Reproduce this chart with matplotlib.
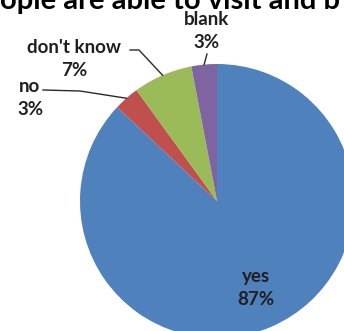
import numpy as np
import matplotlib
matplotlib.use("Agg")
import matplotlib.pyplot as plt

# data
labels = ["yes", "no", "don't know", "blank"]
values = [87, 3, 7, 3]
colors = ["#4F81BD", "#C0504D", "#9BBB59", "#8064A2"]
title_text = "ople are able to visit and b"

W, H = 344, 331
fig = plt.figure(figsize=(W / 100, H / 100), dpi=100)
ax = fig.add_axes([0, 0, 1, 1])

cx, cy, r = 217, H - 201, 137
wedges, _ = ax.pie(values, colors=colors, startangle=90, counterclock=False,
                   center=(cx, cy), radius=r, frame=True,
                   wedgeprops=dict(linewidth=0))
ax.set_xlim(0, W)
ax.set_ylim(0, H)
ax.set_aspect("equal")
ax.axis("off")

font = dict(family=["Lato", "DejaVu Sans"], fontweight="bold", fontsize=13.5,
            color="#1f1f1f", ha="center", va="center", linespacing=1.4)

def anchor(w):
    t = np.deg2rad((w.theta1 + w.theta2) / 2)
    return cx + r * np.cos(t), cy + r * np.sin(t)

# label text positions (pixel coords, y from top)
pos = {"yes": (256, 288), "no": (30, 98), "don't know": (74, 59), "blank": (207, 31)}

for w, lab, v in zip(wedges, labels, values):
    tx, ty = pos[lab]
    ax.text(tx, H - ty, f"{lab}\n{v}%", **font)

# leader lines
lc = "#2a2a2a"
ax_, ay_ = anchor(wedges[3])
ax.plot([207, ax_], [H - 54, ay_], color=lc, lw=1)
ax_, ay_ = anchor(wedges[2])
ax.plot([130, 139, ax_], [H - 50, H - 50, ay_], color=lc, lw=1)
ax_, ay_ = anchor(wedges[1])
ax.plot([43, 80, ax_], [H - 90, H - 91, ay_], color=lc, lw=1)

ax.text(0, H - 9, title_text, family=["Lato", "DejaVu Sans"], fontweight="bold",
        fontsize=21, color="black", ha="left", va="baseline")

fig.savefig("out.png", dpi=100)
